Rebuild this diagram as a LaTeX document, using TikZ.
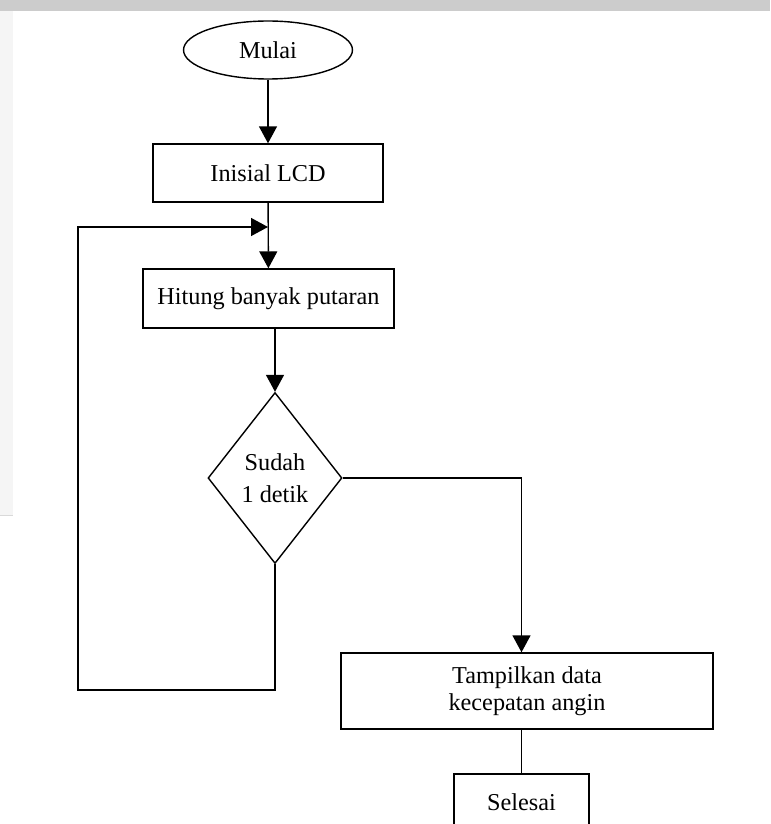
\documentclass[tikz,border=0pt]{standalone}
\usepackage{fontspec}
\setmainfont{Liberation Serif}
\usetikzlibrary{arrows.meta,shapes.geometric,positioning}

\begin{document}
\begin{tikzpicture}[x=0.02cm,y=-0.02cm,line width=0.8pt]
  \tikzset{terminal/.style = {shape=ellipse,draw,minimum width=3.38cm,minimum height=1.16cm,inner sep=0pt}}
  \tikzset{process/.style = {shape=rectangle,draw,inner sep=0pt,align=center}}
  \tikzset{decision/.style = {shape=diamond,draw,minimum width=2.68cm,minimum height=3.42cm,inner sep=0pt,align=center}}
  \tikzset{flow/.style = {-{Triangle[length=0.34cm,width=0.36cm]}}}
  \tikzset{every node/.style = {font=\fontsize{13.8}{15.5}\selectfont}}

	% page
	\useasboundingbox (0,0) rectangle (770,824);
	\fill[gray!40] (0,0) rectangle (770,11);
	\fill[gray!8] (0,11) rectangle (13,515);
	\draw[gray!30,line width=0.5pt] (0,515) -- (13,515);

	\node[terminal] (mulai) at (268,50) {Mulai};
	\node[process,minimum width=4.6cm,minimum height=1.16cm] (inisial) at (268,173) {Inisial LCD};
	\node[process,minimum width=5.02cm,minimum height=1.18cm] (hitung) at (268.5,298.5) {Hitung banyak putaran};
	\node[decision] (cek) at (275,478) {Sudah\\[2.5pt]1 detik};
	\node[process,minimum width=7.44cm,minimum height=1.52cm] (tampil) at (527,691) {Tampilkan data\\kecepatan angin};
	\node[process,minimum width=2.7cm,minimum height=1.12cm] (selesai) at (521.5,802) {Selesai};

	\coordinate (lb) at (78,690);
	\coordinate (lt) at (78,227);

	\draw[flow] (mulai) -- (inisial);
	\draw[flow] (inisial) -- (hitung);
	\draw[flow] (cek.north |- hitung.south) -- (cek.north);
	\draw[flow] (cek.east) -| (selesai.north |- tampil.north);
	\draw (tampil.south -| selesai.north) -- (selesai.north);

	% loop back
	\draw[flow] (cek.south) |- (lb) -- (lt) -- (inisial.south |- lt);

\end{tikzpicture}
\end{document}
